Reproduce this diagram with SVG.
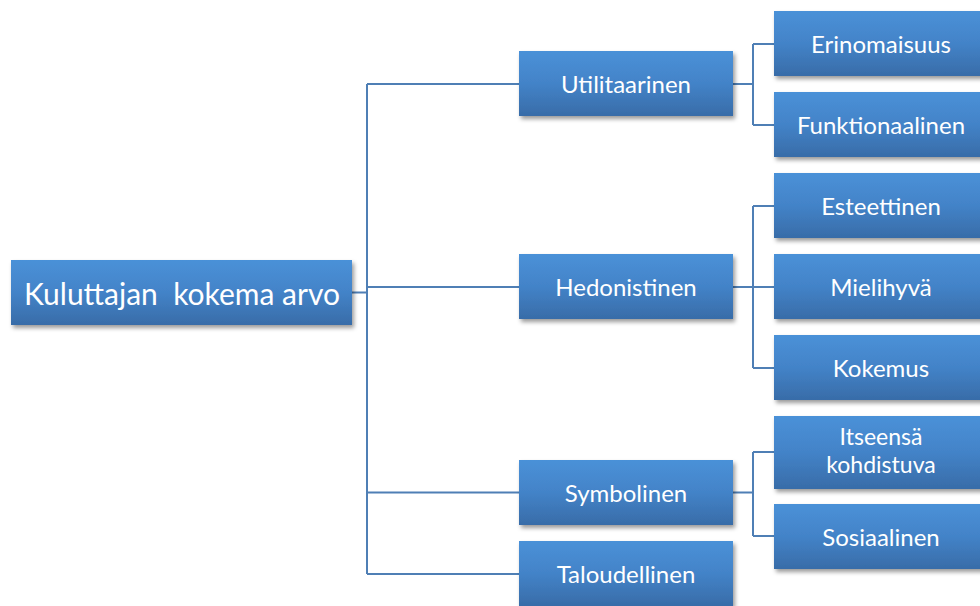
<svg xmlns="http://www.w3.org/2000/svg" width="980" height="606" viewBox="0 0 980 606">
<defs>
<linearGradient id="g" x1="0" y1="0" x2="0" y2="1">
<stop offset="0" stop-color="#4A91D8"/>
<stop offset="0.5" stop-color="#4383C8"/>
<stop offset="1" stop-color="#386CA8"/>
</linearGradient>
<filter id="sh" x="-10%" y="-20%" width="130%" height="160%">
<feDropShadow dx="2" dy="3" stdDeviation="2" flood-color="#000" flood-opacity="0.4"/>
</filter>
</defs>
<style>
.box{fill:url(#g);filter:url(#sh);}
.t{fill:#fff;font-family:Lato,"Open Sans","Liberation Sans",sans-serif;font-size:24px;text-anchor:middle;white-space:pre;}
.root{font-size:30px;}
.sm{font-size:23px;}
.c{fill:none;stroke:#4F7FB5;stroke-width:2;}
</style>
<rect width="980" height="606" fill="#fff"/>
<g id="connectors">
<path class="c" d="M352 292.5H367M367 84V574M367 84H519M367 287H519M367 492.5H519M367 574H519"/>
<path class="c" d="M733 84H753M753 44V125M753 44H774M753 125H774"/>
<path class="c" d="M733 287H753M753 206V368M753 206H774M753 287H774M753 368H774"/>
<path class="c" d="M733 492.5H753M753 452V536M753 452H774M753 536H774"/>
</g>
<g id="root"><rect class="box" x="11" y="260" width="341" height="65"/><text class="t root" x="182" y="305" xml:space="preserve">Kuluttajan  kokema arvo</text></g>
<g id="utilitaarinen"><rect class="box" x="519" y="51" width="214" height="65"/><text class="t" x="626" y="93">Utilitaarinen</text></g>
<g id="hedonistinen"><rect class="box" x="519" y="254" width="214" height="65"/><text class="t" x="626" y="296">Hedonistinen</text></g>
<g id="symbolinen"><rect class="box" x="519" y="460" width="214" height="65"/><text class="t" x="626" y="502">Symbolinen</text></g>
<g id="taloudellinen"><rect class="box" x="519" y="541" width="214" height="65"/><text class="t" x="626" y="583">Taloudellinen</text></g>
<g id="erinomaisuus"><rect class="box" x="774" y="11" width="214" height="65"/><text class="t" x="881" y="53">Erinomaisuus</text></g>
<g id="funktionaalinen"><rect class="box" x="774" y="92" width="214" height="65"/><text class="t" x="881" y="134">Funktionaalinen</text></g>
<g id="esteettinen"><rect class="box" x="774" y="173" width="214" height="65"/><text class="t" x="881" y="215">Esteettinen</text></g>
<g id="mielihyva"><rect class="box" x="774" y="254" width="214" height="65"/><text class="t" x="881" y="296">Mielihyvä</text></g>
<g id="kokemus"><rect class="box" x="774" y="335" width="214" height="65"/><text class="t" x="881" y="377">Kokemus</text></g>
<g id="itseensa"><rect class="box" x="774" y="416" width="214" height="73"/><text class="t sm" x="881" y="445">Itseensä</text><text class="t sm" x="881" y="473">kohdistuva</text></g>
<g id="sosiaalinen"><rect class="box" x="774" y="504" width="214" height="65"/><text class="t" x="881" y="546">Sosiaalinen</text></g>
</svg>
